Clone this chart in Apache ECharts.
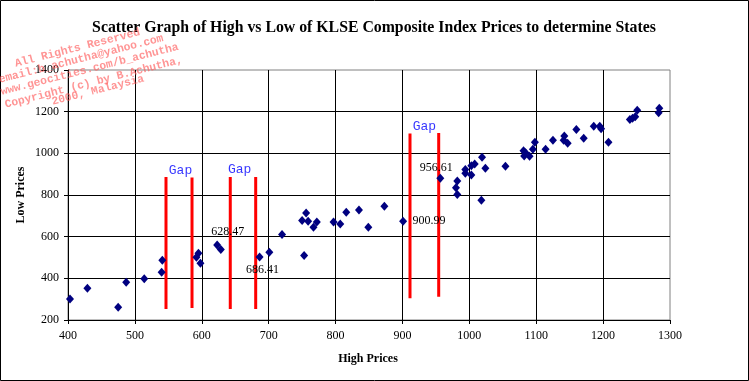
<!DOCTYPE html>
<html>
<head>
<meta charset="utf-8">
<script src="https://cdn.jsdelivr.net/npm/echarts@6/dist/echarts.min.js"></script>
<style>html,body{margin:0;padding:0;background:#fff}#c{width:749px;height:381px}</style>
</head>
<body>
<div id="c"></div>
<script>
// ---- data ----
const highPrices = [403, 429, 475, 487, 514, 540, 541, 592, 595, 598, 623, 628.47, 686.41, 701, 720, 753,
  750, 756, 759, 767, 772, 797, 807, 816, 835, 849, 873, 900.99, 956.61, 982, 980, 982, 994, 994,
  1003, 1008, 1003, 1019, 1024, 1018, 1054, 1081, 1084, 1082, 1090, 1095, 1098, 1114, 1125, 1142,
  1141, 1147, 1160, 1171, 1186, 1195, 1197, 1208, 1240, 1244, 1248, 1251, 1284, 1283];
const lowPrices = [301, 352, 261, 381, 398, 429, 487, 501, 520, 472, 560, 539, 502, 525, 611, 510,
  678, 714, 674, 645, 670, 670, 661, 717, 728, 645, 746, 674, 880, 867, 835, 803, 923, 904,
  941, 949, 896, 981, 928, 775, 938, 1013, 1003, 987, 986, 1020, 1053, 1020, 1063, 1083,
  1063, 1048, 1115, 1072, 1130, 1130, 1118, 1053, 1163, 1168, 1176, 1207, 1216, 1195];
const labeledHighs = [628.47, 686.41, 900.99, 956.61];

const gapLineX = [546.5, 585.4, 642.6, 680.6, 911.3, 954.2];
const gapLineTop = [886, 884, 886, 886, 1095, 1098];
const gapLineBottom = [253, 258, 253, 253, 304, 312];

const gapLabelX = [568.2, 656.7, 932.9];
const gapLabelY = [916, 923, 1128];
const gapLabelText = ['Gap', 'Gap', 'Gap'];

const xTicks = [400, 1300, 100];   // min, max, interval
const yTicks = [200, 1400, 200];

const titleText = 'Scatter Graph of High vs Low of KLSE Composite Index Prices to determine States';
const xName = 'High Prices';
const yName = 'Low Prices';
const watermarkLines = ['All Rights Reserved', 'email:b_achutha@yahoo.com', 'www.geocities.com/b_achutha',
  'Copyright (c) by B.Achutha,', '2000, Malaysia'];

// ---- styles ----
const labelOffsets = { '628.47': [7, -18], '686.41': [3, 13], '900.99': [26, 0], '956.61': [-4, -10] };
const wmPos = [[18, 64], [2, 80], [4, 92], [8, 105], [55, 102]];
const serif = '"Liberation Serif", "Times New Roman", serif';
const mono = '"Liberation Mono", "Courier New", monospace';

const scatterData = highPrices.map((h, i) => {
  const item = { value: [h, lowPrices[i]] };
  if (labeledHighs.indexOf(h) >= 0) {
    item.label = {
      show: true, position: 'inside', offset: labelOffsets[h.toFixed(2)],
      formatter: p => p.value[0].toFixed(2),
      color: '#000', fontFamily: serif, fontSize: 12
    };
  }
  return item;
});

const gapSeries = gapLineX.map((x, i) => ({
  type: 'line', data: [[x, gapLineBottom[i]], [x, gapLineTop[i]]],
  symbol: 'none', lineStyle: { color: '#ff0000', width: 3 }, z: 3, silent: true, animation: false
}));

const chart = echarts.init(document.getElementById('c'), null, { renderer: 'canvas' });
const rot = 14.3 * Math.PI / 180;
chart.setOption({
  animation: false,
  backgroundColor: '#fff',
  grid: { left: 68, top: 70, right: 79, bottom: 61, show: true, borderColor: '#808080', borderWidth: 1, backgroundColor: '#fff' },
  xAxis: {
    type: 'value', min: xTicks[0], max: xTicks[1], interval: xTicks[2],
    axisLine: { show: true, onZero: false, lineStyle: { color: '#000', width: 1 } },
    axisTick: { show: true, length: 4, lineStyle: { color: '#000' } },
    axisLabel: { color: '#000', fontFamily: serif, fontSize: 12, margin: 10, formatter: v => String(v) },
    splitLine: { show: true, showMaxLine: false, lineStyle: { color: '#000', width: 1 } }
  },
  yAxis: {
    type: 'value', min: yTicks[0], max: yTicks[1], interval: yTicks[2],
    axisLine: { show: true, onZero: false, lineStyle: { color: '#000', width: 1 } },
    axisTick: { show: true, length: 4, lineStyle: { color: '#000' } },
    axisLabel: { color: '#000', fontFamily: serif, fontSize: 12, margin: 9, formatter: v => String(v) },
    splitLine: { show: true, showMaxLine: false, lineStyle: { color: '#000', width: 1 } }
  },
  series: [
    {
      type: 'scatter', data: scatterData, symbol: 'diamond', symbolSize: [8, 9],
      itemStyle: { color: '#000080', opacity: 1 }, z: 4
    },
    ...gapSeries,
    {
      type: 'scatter', data: gapLabelX.map((x, i) => ({ value: [x, gapLabelY[i]], name: gapLabelText[i] })),
      symbolSize: 1, itemStyle: { color: 'rgba(0,0,0,0)' }, z: 5,
      label: { show: true, position: 'inside', formatter: p => p.name, color: '#0000ff', fontFamily: mono, fontSize: 13 }
    }
  ],
  graphic: [
    { type: 'rect', shape: { x: 0.5, y: 0.5, width: 748, height: 380 }, style: { fill: 'none', stroke: '#000', lineWidth: 1 }, z: 100 },
    { type: 'text', x: 374, y: 28, style: { text: titleText, font: 'bold 15.8px ' + serif, fill: '#000', textAlign: 'center', textVerticalAlign: 'middle' }, z: 100 },
    { type: 'text', x: 368, y: 359, style: { text: xName, font: 'bold 12px ' + serif, fill: '#000', textAlign: 'center', textVerticalAlign: 'middle' }, z: 100 },
    { type: 'text', x: 21, y: 195, rotation: Math.PI / 2, style: { text: yName, font: 'bold 12px ' + serif, fill: '#000', textAlign: 'center', textVerticalAlign: 'middle' }, z: 100 },
    ...watermarkLines.map((t, i) => ({
      type: 'text', x: wmPos[i][0] - 3, y: wmPos[i][1], rotation: rot,
      style: { text: t, font: 'bold 11.3px ' + mono, fill: 'rgba(255,90,90,0.65)', textAlign: 'left', textVerticalAlign: 'middle' }, z: 200
    }))
  ]
});
</script>
</body>
</html>
